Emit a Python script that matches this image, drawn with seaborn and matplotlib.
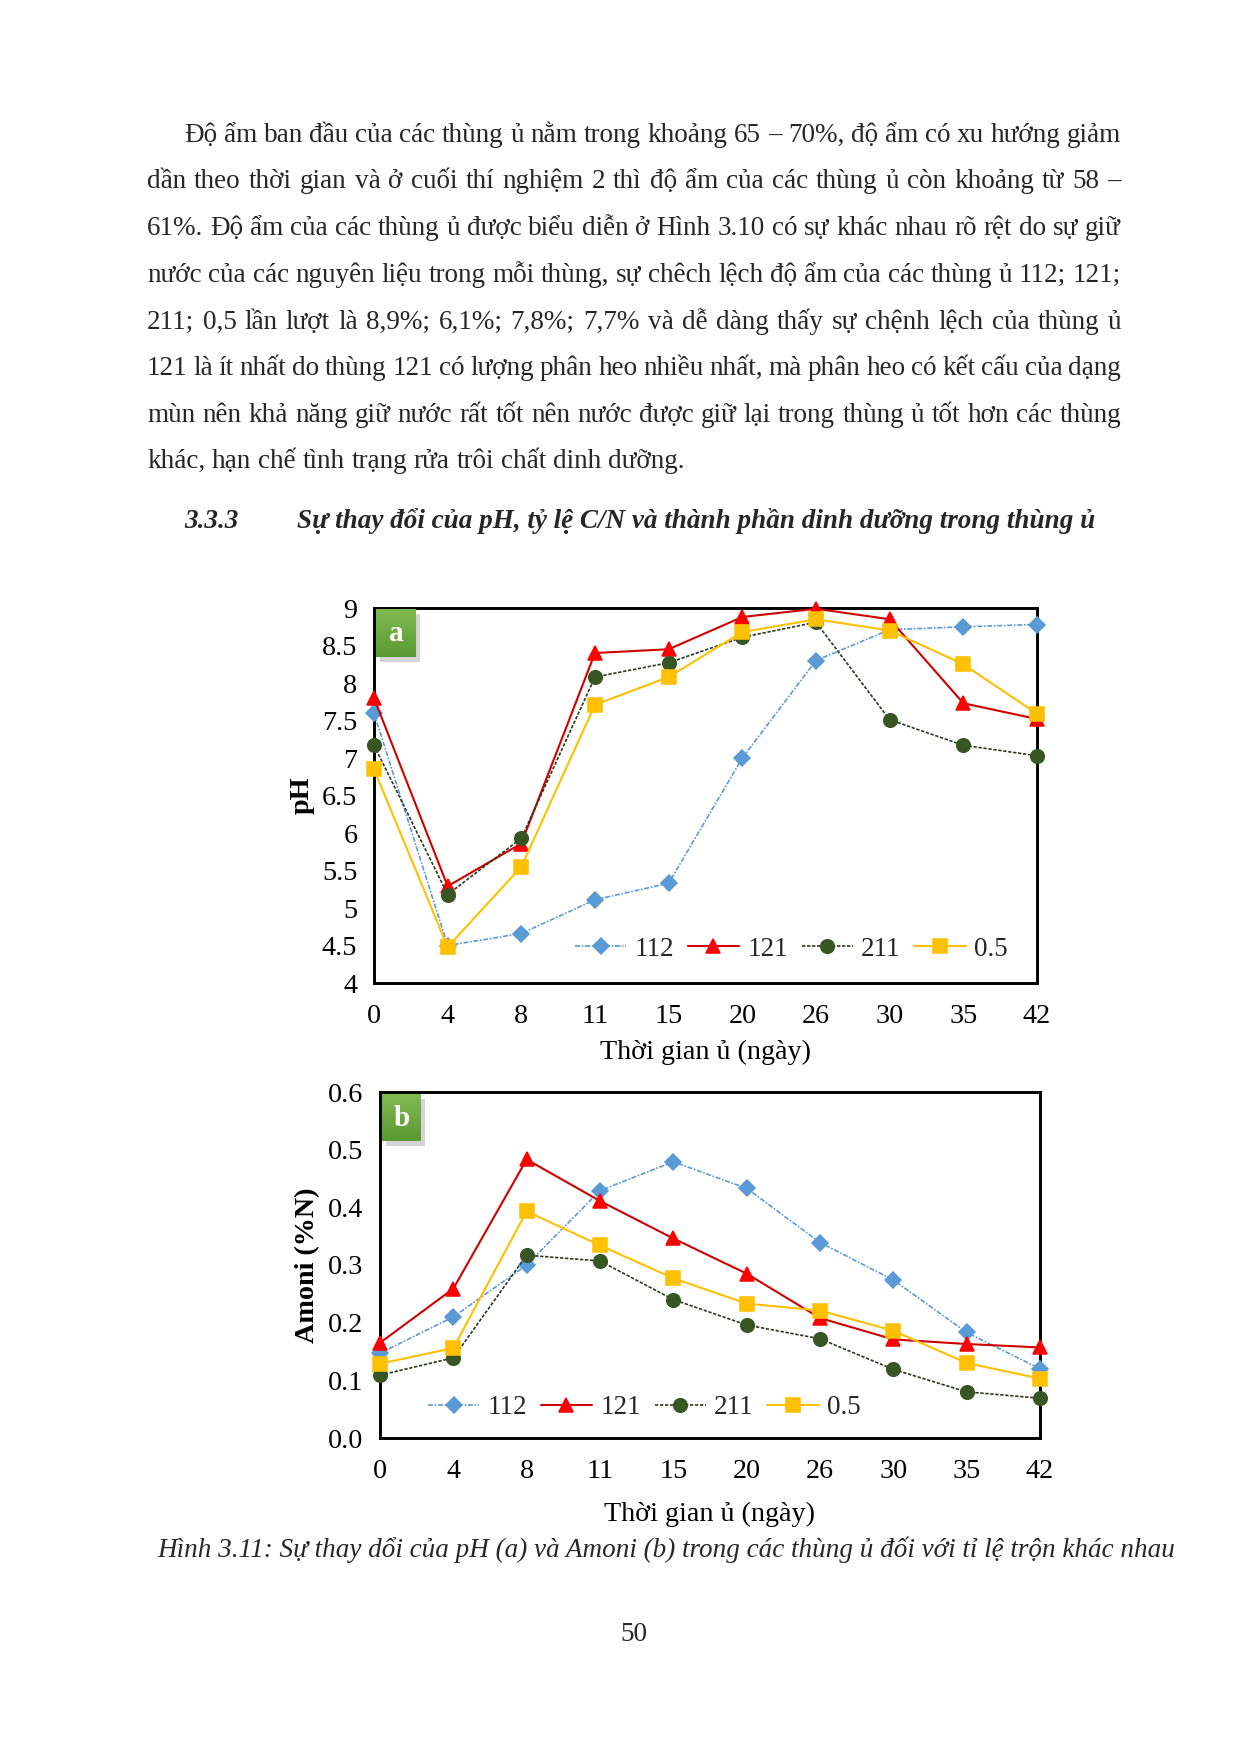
import numpy as np
import pandas as pd
import seaborn as sns
import matplotlib.pyplot as plt
from matplotlib.patches import Rectangle

W, H, DPI = 1240, 1754, 150

days = ["0", "4", "8", "11", "15", "20", "26", "30", "35", "42"]
series = ["112", "121", "211", "0.5"]

ph_112 = [7.60, 4.50, 4.66, 5.11, 5.33, 7.00, 8.30, 8.71, 8.75, 8.78]
ph_121 = [7.80, 5.29, 5.86, 8.40, 8.45, 8.88, 8.99, 8.85, 7.73, 7.52]
ph_211 = [7.17, 5.18, 5.93, 8.08, 8.27, 8.61, 8.81, 7.51, 7.17, 7.03]
ph_05 = [6.85, 4.48, 5.55, 7.71, 8.08, 8.68, 8.85, 8.70, 8.25, 7.59]

amoni_112 = [0.147, 0.210, 0.300, 0.429, 0.479, 0.433, 0.339, 0.274, 0.183, 0.120]
amoni_121 = [0.165, 0.259, 0.483, 0.411, 0.346, 0.285, 0.208, 0.171, 0.163, 0.157]
amoni_211 = [0.109, 0.139, 0.317, 0.307, 0.240, 0.196, 0.172, 0.119, 0.080, 0.069]
amoni_05 = [0.129, 0.156, 0.393, 0.334, 0.277, 0.233, 0.221, 0.186, 0.130, 0.103]

paragraph = [
    "Độ ẩm ban đầu của các thùng ủ nằm trong khoảng 65 – 70%, độ ẩm có xu hướng giảm",
    "dần theo thời gian và ở cuối thí nghiệm 2 thì độ ẩm của các thùng ủ còn khoảng từ 58 –",
    "61%. Độ ẩm của các thùng ủ được biểu diễn ở Hình 3.10 có sự khác nhau rõ rệt do sự giữ",
    "nước của các nguyên liệu trong mỗi thùng, sự chêch lệch độ ẩm của các thùng ủ 112; 121;",
    "211; 0,5 lần lượt là 8,9%; 6,1%; 7,8%; 7,7% và dễ dàng thấy sự chệnh lệch của thùng ủ",
    "121 là ít nhất do thùng 121 có lượng phân heo nhiều nhất, mà phân heo có kết cấu của dạng",
    "mùn nên khả năng giữ nước rất tốt nên nước được giữ lại trong thùng ủ tốt hơn các thùng",
    "khác, hạn chế tình trạng rửa trôi chất dinh dưỡng.",
]
heading_num = "3.3.3"
heading = "Sự thay đổi của pH, tỷ lệ C/N và thành phần dinh dưỡng trong thùng ủ"
caption = "Hình 3.11: Sự thay dổi của pH (a) và Amoni (b) trong các thùng ủ đối với tỉ lệ trộn khác nhau"
xlabel = "Thời gian ủ (ngày)"

styles = {
    "112": dict(color="#5b9bd5", marker="D", markersize=5.5, mfc="#5b9bd5", mec="#5b9bd5",
                linestyle=(0, (3, 1, 1, 1)), linewidth=0.8),
    "121": dict(color="#d00000", marker="^", markersize=7, mfc="#ff0000", mec="#ff0000",
                linestyle="-", linewidth=1.0),
    "211": dict(color="#2b3a1e", marker="o", markersize=6.5, mfc="#375623", mec="#375623",
                linestyle=(0, (2, 1)), linewidth=0.8),
    "0.5": dict(color="#ffc000", marker="s", markersize=6.5, mfc="#ffc000", mec="#ffc000",
                linestyle="-", linewidth=1.0),
}

sns.set_theme(style="white")
plt.rcParams["font.family"] = ["Liberation Serif", "DejaVu Serif"]

fig = plt.figure(figsize=(W / DPI, H / DPI), dpi=DPI)
fig.patch.set_facecolor("white")
renderer = fig.canvas.get_renderer()


def fx(x):
    return x / W


def fy(y):
    return 1 - y / H


def put_line(text, x0, x1, y, justify, **kw):
    words = text.split(" ")
    texts = [fig.text(0, 0, w, va="baseline", ha="left", **kw) for w in words]
    widths = [t.get_window_extent(renderer).width for t in texts]
    probe = fig.text(0, 0, "n n", **kw)
    probe2 = fig.text(0, 0, "nn", **kw)
    space = probe.get_window_extent(renderer).width - probe2.get_window_extent(renderer).width
    probe.remove()
    probe2.remove()
    gap = (x1 - x0 - sum(widths)) / (len(words) - 1) if justify else space
    x = x0
    for t, w in zip(texts, widths):
        t.set_position((fx(x), fy(y)))
        x += w + gap


# body text
line_y = [134, 180, 227, 274, 321, 367, 414, 460]
for i, (txt, y) in enumerate(zip(paragraph, line_y)):
    x0 = 184 if i == 0 else 147
    put_line(txt, x0, 1121, y + 8, justify=(i < len(paragraph) - 1), fontsize=13)

fig.text(fx(184), fy(528), heading_num, fontsize=13, fontweight="bold", fontstyle="italic",
         va="baseline")
fig.text(fx(297), fy(528), heading, fontsize=13, fontweight="bold", fontstyle="italic",
         va="baseline")


def make_df(values):
    rows = []
    for s, vals in zip(series, values):
        for d, v in zip(days, vals):
            rows.append({"day": d, "series": s, "value": v})
    return pd.DataFrame(rows)


def draw_badge(ax, letter, x0, x1, y0, y1):
    shadow = Rectangle((x0 + 0.006, y0 - 0.012), x1 - x0, y1 - y0, transform=ax.transAxes,
                       facecolor="#888888", alpha=0.35, edgecolor="none", zorder=5)
    ax.add_patch(shadow)
    grad = np.linspace(0, 1, 50).reshape(-1, 1)
    cmap = sns.blend_palette(["#80bb50", "#5a9a32"], as_cmap=True)
    ax.imshow(grad, cmap=cmap, extent=(x0, x1, y0, y1), transform=ax.transAxes,
              aspect="auto", zorder=6, origin="upper")
    ax.text((x0 + x1) / 2, (y0 + y1) / 2, letter, transform=ax.transAxes, color="white",
            fontsize=14, fontweight="bold", ha="center", va="center", zorder=7)


def draw_panel(ax, df, ylim, yticks, yfmt, ylabel, ylabel_x, xlabel_y, leg_xy, letter, badge):
    for s in series:
        st = dict(styles[s])
        sub = df[df["series"] == s]
        sns.lineplot(data=sub, x="day", y="value", ax=ax, sort=False, label=s,
                     color=st["color"], marker=st["marker"], markersize=st["markersize"],
                     markerfacecolor=st["mfc"], markeredgecolor=st["mec"],
                     linestyle=st["linestyle"], linewidth=st["linewidth"],
                     clip_on=False, zorder=4)
    draw_badge(ax, letter, *badge)
    ax.set_xlim(0, len(days) - 1)
    ax.set_ylim(*ylim)
    ax.set_yticks(yticks)
    ax.set_yticklabels([yfmt.format(v) for v in yticks])
    ax.set_xticks(range(len(days)))
    ax.set_xticklabels(days)
    for sp in ax.spines.values():
        sp.set_visible(True)
        sp.set_color("black")
        sp.set_linewidth(1.4)
    ax.tick_params(axis="both", which="major", direction="out", length=5, width=1.3,
                   color="black", labelsize=13.5, labelcolor="black")
    ax.tick_params(axis="x", pad=5)
    ax.tick_params(axis="y", pad=3)
    ax.set_ylabel(ylabel, fontsize=13.5, fontweight="bold", color="black")
    ax.yaxis.set_label_coords(ylabel_x, 0.5)
    ax.set_xlabel(xlabel, fontsize=13.5, color="black")
    ax.xaxis.set_label_coords(0.5, xlabel_y)
    ax.grid(False)
    ax.set_facecolor("white")
    ax.legend(loc="center left", bbox_to_anchor=leg_xy, ncol=4, frameon=False, fontsize=13,
              handlelength=1.9, handletextpad=0.3, columnspacing=0.5, borderaxespad=0,
              borderpad=0)


# pH panel
ax1 = fig.add_axes([374 / W, 1 - 983 / H, (1037 - 374) / W, (983 - 608) / H])
df_ph = make_df([ph_112, ph_121, ph_211, ph_05])
draw_panel(ax1, df_ph, (4, 9), [4, 4.5, 5, 5.5, 6, 6.5, 7, 7.5, 8, 8.5, 9], "{:g}", "pH",
           (315 - 374) / 663, -(1040 - 983) / 375, ((575 - 374) / 663, (983 - 949) / 375),
           "a", (0.003, 0.063, 0.869, 0.997))

# Amoni panel
ax2 = fig.add_axes([380 / W, 1 - 1438 / H, (1040 - 380) / W, (1438 - 1092) / H])
df_am = make_df([amoni_112, amoni_121, amoni_211, amoni_05])
draw_panel(ax2, df_am, (0, 0.6), [0, 0.1, 0.2, 0.3, 0.4, 0.5, 0.6], "{:.1f}", "Amoni (%N)",
           (320 - 380) / 660, -(1502 - 1438) / 346, ((428 - 380) / 660, (1438 - 1408) / 346),
           "b", (0.003, 0.062, 0.857, 0.991))

fig.text(fx(666), fy(1557), caption, fontsize=13, fontstyle="italic", ha="center",
         va="baseline")
fig.text(fx(634), fy(1641), "50", fontsize=13, ha="center", va="baseline")

fig.savefig("out.png", dpi=DPI, facecolor="white")
